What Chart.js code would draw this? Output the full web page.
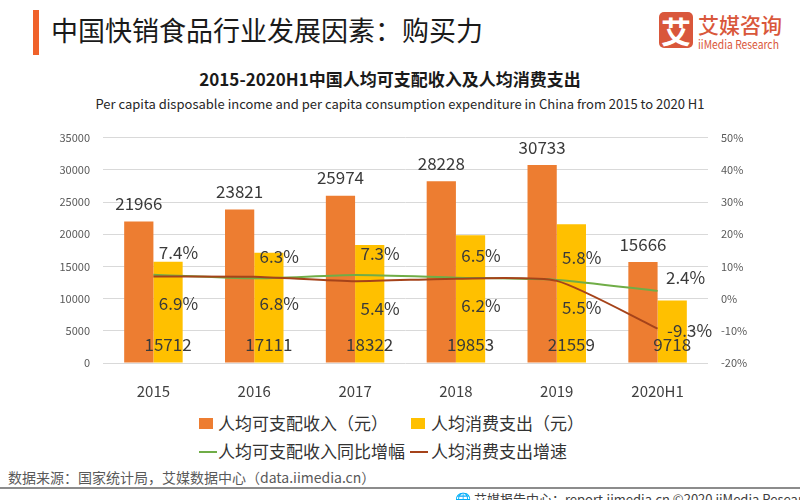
<!DOCTYPE html>
<html>
<head>
<meta charset="utf-8">
<script src="https://cdn.jsdelivr.net/npm/chart.js@4/dist/chart.umd.min.js"></script>
<style>
  html, body { margin:0; padding:0; background:#fff; width:800px; height:500px; overflow:hidden; font-family:"Noto Sans CJK SC", "Noto Sans", sans-serif; }
  .abs { position:absolute; white-space:nowrap; }
  #bar { left:33px; top:10px; width:6px; height:45px; background:#F0622A; }
  #title { left:51px; top:11px; font-size:27px; color:#1a1a1a; line-height:38px; }
  #logoBox { left:659px; top:12px; width:34px; height:36px; background:#D9573B; border-radius:5px; color:#fff; font-size:30px; line-height:36px; text-align:center; font-weight:bold; }
  #logoCn { left:698px; top:9px; font-size:21px; color:#D9573B; line-height:30px; font-weight:500; }
  #logoEn { left:698px; top:36px; font-size:12px; color:#D9573B; line-height:16px; transform-origin:0 0; transform:scaleX(0.86); }
  #ctitle { left:0; width:780px; top:66px; text-align:center; font-size:17px; font-weight:bold; color:#1a1a1a; line-height:26px; }
  #csub { left:0; width:800px; top:93px; text-align:center; font-size:13px; color:#262626; line-height:22px; }
  #chartWrap { left:0; top:118px; width:800px; height:292px; }
  .leg { font-size:17px; color:#333; line-height:24px; }
  .sq { position:absolute; width:14px; height:11px; }
  .ln { position:absolute; width:18px; height:2px; }
  #source { left:8px; top:466px; font-size:14px; color:#595959; line-height:22px; }
  #rule { left:0; top:487px; width:800px; height:2px; background:#8c8c8c; }
  #foot { left:455px; top:490px; font-size:13px; color:#404040; line-height:18px; }
</style>
</head>
<body>
<div class="abs" id="bar"></div>
<div class="abs" id="title">中国快销食品行业发展因素：购买力</div>
<div class="abs" id="logoBox">艾</div>
<div class="abs" id="logoCn">艾媒咨询</div>
<div class="abs" id="logoEn">iiMedia Research</div>
<div class="abs" id="ctitle">2015-2020H1中国人均可支配收入及人均消费支出</div>
<div class="abs" id="csub">Per capita disposable income and per capita consumption expenditure in China from 2015 to 2020 H1</div>
<div class="abs" id="chartWrap"><canvas id="c"></canvas></div>
<div id="legend"></div>
<div class="abs" id="source">数据来源：国家统计局，艾媒数据中心（data.iimedia.cn）</div>
<div class="abs" id="rule"></div>
<div class="abs" id="foot">🌐 艾媒报告中心：report.iimedia.cn ©2020 iiMedia Research Inc</div>

<script>
const categories = ['2015', '2016', '2017', '2018', '2019', '2020H1'];
const incomeValues = [21966, 23821, 25974, 28228, 30733, 15666];
const expenditureValues = [15712, 17111, 18322, 19853, 21559, 9718];
const incomeGrowth = [7.4, 6.3, 7.3, 6.5, 5.8, 2.4];
const expenditureGrowth = [6.9, 6.8, 5.4, 6.2, 5.5, -9.3];
const leftTicks = [0, 5000, 10000, 15000, 20000, 25000, 30000, 35000];
const rightTicks = [-20, -10, 0, 10, 20, 30, 40, 50];

const seriesNames = ['人均可支配收入（元）', '人均消费支出（元）', '人均可支配收入同比增幅', '人均消费支出增速'];
const seriesColors = ['#ED7D31', '#FFC000', '#70AD47', '#A5431A'];

const FONT = '"Noto Sans CJK SC", "Noto Sans", sans-serif';

const labelPlugin = {
  id: 'valueLabels',
  afterDatasetsDraw(chart) {
    const ctx = chart.ctx;
    ctx.save();
    ctx.font = '17px ' + FONT;
    ctx.fillStyle = '#3a3a3a';
    ctx.textAlign = 'center';
    ctx.textBaseline = 'middle';
    const last = categories.length - 1;
    chart.data.datasets.forEach((ds, di) => {
      const meta = chart.getDatasetMeta(di);
      meta.data.forEach((el, i) => {
        const v = ds.data[i];
        let x = el.x, y = el.y, t;
        if (di === 0) { y = el.y - 18; t = String(v); }
        else if (di === 1) { y = el.base - 18; t = String(v); }
        else if (di === 2) {
          t = v.toFixed(1) + '%';
          if (i === last) { x += 28; y -= 13; } else { x += 25; y -= 22; }
        } else {
          t = v.toFixed(1) + '%';
          if (i === last) { x += 32; y += 2; } else { x += 25; y += 27; }
        }
        ctx.fillText(t, x, y);
      });
    });
    ctx.restore();
  }
};

new Chart(document.getElementById('c'), {
  data: {
    labels: categories,
    datasets: [
      { type:'bar', label: seriesNames[0], data: incomeValues, backgroundColor: seriesColors[0], yAxisID:'y', order:2, barPercentage:1, categoryPercentage:0.58 },
      { type:'bar', label: seriesNames[1], data: expenditureValues, backgroundColor: seriesColors[1], yAxisID:'y', order:2, barPercentage:1, categoryPercentage:0.58 },
      { type:'line', label: seriesNames[2], data: incomeGrowth, borderColor: seriesColors[2], backgroundColor: seriesColors[2], borderWidth:2, pointRadius:0, tension:0.2, yAxisID:'y1', order:1 },
      { type:'line', label: seriesNames[3], data: expenditureGrowth, borderColor: seriesColors[3], backgroundColor: seriesColors[3], borderWidth:2, pointRadius:0, tension:0.2, yAxisID:'y1', order:0 }
    ]
  },
  options: {
    responsive: true,
    maintainAspectRatio: false,
    animation: false,
    layout: { padding: { top: 15, left: 0, right: 0, bottom: 0 } },
    plugins: { legend: { display:false }, tooltip: { enabled:false }, title: { display:false } },
    scales: {
      x: {
        grid: { display:false },
        border: { display:false },
        ticks: { color:'#404040', font:{ family: FONT, size:15 }, padding:11 },
        afterFit(s) { s.height = 47; }
      },
      y: {
        position:'left', min: leftTicks[0], max: leftTicks[leftTicks.length-1],
        afterBuildTicks(s) { s.ticks = leftTicks.map(v => ({ value: v })); },
        grid: { color:'#d9d9d9', drawTicks:false, lineWidth:1 },
        border: { display:false },
        ticks: { color:'#595959', font:{ family: FONT, size:11 }, padding:13, callback: v => String(v) },
        afterFit(s) { s.width = 103; }
      },
      y1: {
        position:'right', min: rightTicks[0], max: rightTicks[rightTicks.length-1],
        afterBuildTicks(s) { s.ticks = rightTicks.map(v => ({ value: v })); },
        grid: { display:false, drawTicks:false },
        border: { display:false },
        ticks: { color:'#595959', font:{ family: FONT, size:11 }, padding:13, callback: v => v + '%' },
        afterFit(s) { s.width = 92; }
      }
    }
  },
  plugins: [labelPlugin]
});

// legend built from series names/colours
const legendItems = [
  { i:0, kind:'sq', mx:199, tx:218, cy:424 },
  { i:1, kind:'sq', mx:411, tx:431, cy:424 },
  { i:2, kind:'ln', mx:199, tx:218, cy:452 },
  { i:3, kind:'ln', mx:410, tx:431, cy:452 }
];
const legendEl = document.getElementById('legend');
legendItems.forEach(it => {
  const m = document.createElement('div');
  m.className = it.kind;
  m.style.left = it.mx + 'px';
  m.style.top = (it.kind === 'sq' ? it.cy - 6 : it.cy - 1) + 'px';
  m.style.background = seriesColors[it.i];
  legendEl.appendChild(m);
  const t = document.createElement('div');
  t.className = 'abs leg';
  t.style.left = it.tx + 'px';
  t.style.top = (it.cy - 13) + 'px';
  t.textContent = seriesNames[it.i];
  legendEl.appendChild(t);
});
</script>
</body>
</html>
